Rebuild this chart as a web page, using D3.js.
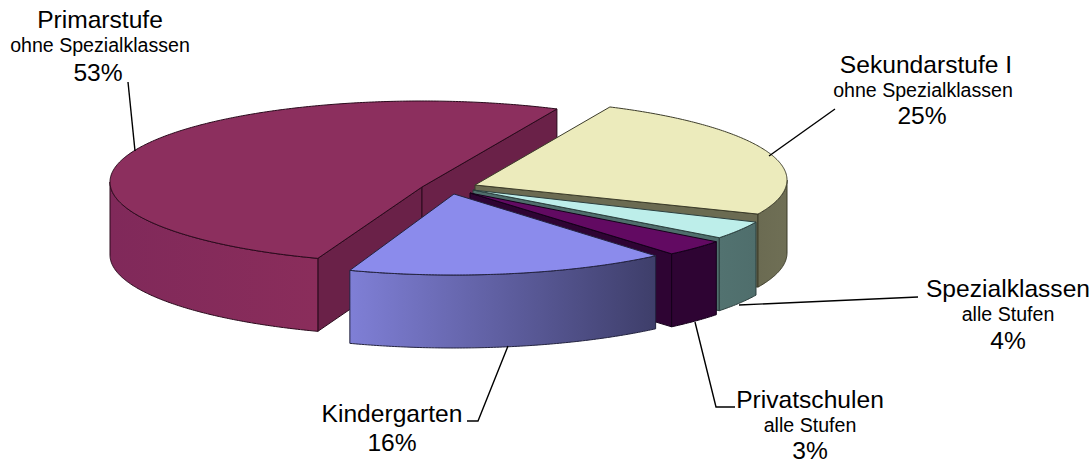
<!DOCTYPE html>
<html>
<head>
<meta charset="utf-8">
<script src="https://d3js.org/d3.v7.min.js"></script>
<style>
    body { margin: 0; background: #fff; }
    svg { display: block; }
    text { font-family: "Liberation Sans", Arial, sans-serif; fill: #000; text-anchor: middle; }
</style>
</head>
<body>
<div id="chart"></div>
<script>
const categories = ["Primarstufe", "Sekundarstufe I", "Spezialklassen", "Privatschulen", "Kindergarten"];
const subLabels = ["ohne Spezialklassen", "ohne Spezialklassen", "alle Stufen", "alle Stufen", ""];
const pctLabels = ["53%", "25%", "4%", "3%", "16%"];
// slice sizes as they are drawn in the picture (perspective makes them differ a bit from the printed ones)
const shares = [51.7, 24.8, 3.6, 3.3, 16.6];

const topColors = ["#8c2f5e", "#ecebbc", "#bdeeea", "#620a62", "#8b8bec"];
const sideColors = ["#6a2148", "#6b6b52", "#4f6e6c", "#2e0433", "#3e3e6a"];
const wallFrom = ["#80295a", "#6b6b52", "#527270", "#2e0433", "#7f7fd6"];
const wallTo = ["#8a2d5b", "#6f6f55", "#4f6e6c", "#2e0433", "#3e3e6a"];
const edgeColors = ["#2a0a1c", "#3c3c2a", "#2c3f3e", "#14001a", "#23233f"];

// exploded slice tips, in pixels, and how far the rim ellipse sits from the tip
const centers = [[422, 187], [475, 185], [473, 190], [470, 193], [454, 194]];
const rimShift = [-5, -5, -2, -1, 0];
const rx = 312, ry = 81, depth = 73;

// label placement
const labelPos = [
    { x: 100, y: 28, sub: 52, pct: 81, px: 98 },
    { x: 926, y: 73, sub: 97, pct: 124, sx: 923, px: 922 },
    { x: 1008, y: 297, sub: 321, pct: 349 },
    { x: 810, y: 408, sub: 432, pct: 459 },
    { x: 392, y: 422, pct: 451 }
];
const leaders = [
    [[128, 82], [135, 151]],
    [[835, 109], [769, 156]],
    [[918, 297], [739, 305]],
    [[735, 407], [716, 407], [695, 322]],
    [[467, 421], [478, 421], [508, 346]]
];

const width = 1092, height = 463;
const svg = d3.select("#chart").append("svg").attr("width", width).attr("height", height);
const defs = svg.append("defs");

const pie = d3.pie().sort(null)
    .startAngle(199.5 * Math.PI / 180)
    .endAngle((199.5 + 360) * Math.PI / 180);
const slices = pie(shares);
const line = d3.line();

function project(i, a, z) {
    return [centers[i][0] + rx * Math.sin(a), centers[i][1] + rimShift[i] - ry * Math.cos(a) + z];
}
function rim(i, a0, a1, z) {
    let n = Math.max(2, Math.ceil(Math.abs(a1 - a0) / 0.01));
    return d3.range(n + 1).map(k => project(i, a0 + (a1 - a0) * k / n, z));
}

slices.forEach((s, i) => {
    let g = svg.append("g");
    let edge = edgeColors[i];
    // slices after the first one start past a full turn
    let turn = s.startAngle >= 2 * Math.PI ? 2 * Math.PI : 0;
    let a0 = s.startAngle - turn, a1 = s.endAngle - turn;
    let center = centers[i];

    // radial walls, only the ones facing the viewer
    [a0, a1].forEach((a, k) => {
        let sn = Math.sin(a);
        let visible = k == 0 ? sn < 0 : sn > 0;
        if (!visible) return;
        let p = project(i, a, 0);
        g.append("path")
            .attr("d", line([center, p, [p[0], p[1] + depth], [center[0], center[1] + depth]]) + "Z")
            .attr("fill", sideColors[i])
            .attr("stroke", edge)
            .attr("stroke-width", 1);
    });

    // outer wall on the front half of the ellipse
    let from = Math.max(a0, Math.PI / 2), to = Math.min(a1, 3 * Math.PI / 2);
    if (to > from) {
        let xs = [project(i, from, 0)[0], project(i, to, 0)[0]];
        let grad = defs.append("linearGradient")
            .attr("id", "wall" + i)
            .attr("gradientUnits", "userSpaceOnUse")
            .attr("x1", d3.min(xs)).attr("x2", d3.max(xs))
            .attr("y1", 0).attr("y2", 0);
        grad.append("stop").attr("offset", 0).attr("stop-color", wallFrom[i]);
        grad.append("stop").attr("offset", 1).attr("stop-color", wallTo[i]);

        let pts = rim(i, from, to, 0).concat(rim(i, to, from, depth));
        g.append("path")
            .attr("d", line(pts) + "Z")
            .attr("fill", "url(#wall" + i + ")")
            .attr("stroke", edge)
            .attr("stroke-width", 1);
    }

    // top face
    let top = [center].concat(rim(i, a0, a1, 0));
    g.append("path")
        .attr("d", line(top) + "Z")
        .attr("fill", topColors[i])
        .attr("stroke", edge)
        .attr("stroke-width", 1);
});

// leader lines
svg.selectAll(".leader").data(leaders).join("path")
    .attr("class", "leader")
    .attr("d", d => line(d))
    .attr("fill", "none")
    .attr("stroke", "#000")
    .attr("stroke-width", 1.4);

// labels
categories.forEach((c, i) => {
    let p = labelPos[i];
    svg.append("text").attr("x", p.x).attr("y", p.y).attr("font-size", 24.6).text(c);
    if (subLabels[i]) {
        svg.append("text").attr("x", p.sx || p.x).attr("y", p.sub).attr("font-size", 19.6).text(subLabels[i]);
    }
    svg.append("text").attr("x", p.px || p.x).attr("y", p.pct).attr("font-size", 24.6).text(pctLabels[i]);
});
</script>
</body>
</html>
